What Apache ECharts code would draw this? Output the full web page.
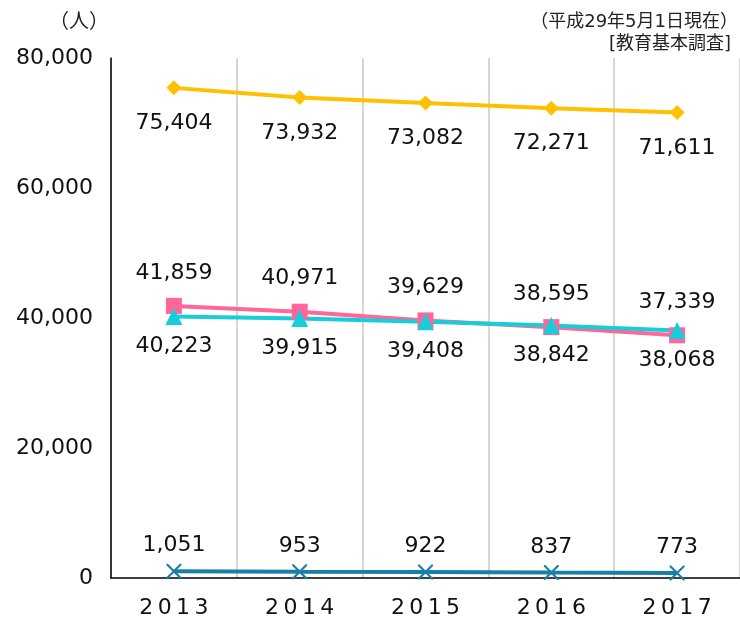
<!DOCTYPE html>
<html>
<head>
<meta charset="utf-8">
<script src="https://cdn.jsdelivr.net/npm/echarts@6/dist/echarts.min.js"></script>
<style>
  html, body { margin: 0; padding: 0; background: #fff; }
  #chart { width: 740px; height: 621px; }
</style>
</head>
<body>
<div id="chart"></div>
<script>
const years = ['2013', '2014', '2015', '2016', '2017']
const seriesA = [75404, 73932, 73082, 72271, 71611]  // 黄
const seriesB = [41859, 40971, 39629, 38595, 37339]  // ピンク
const seriesC = [40223, 39915, 39408, 38842, 38068]  // 水色
const seriesD = [1051, 953, 922, 837, 773]           // 青
const yTicks = [0, 20000, 40000, 60000, 80000]

const numFont = '"DejaVu Sans", "Noto Sans CJK JP", sans-serif'
const cjkFont = '"Noto Sans CJK JP", sans-serif'
const crossPath = 'path://M0,0 L2,0 L10,8 L18,0 L20,0 L20,2 L12,10 L20,18 L20,20 L18,20 L10,12 L2,20 L0,20 L0,18 L8,10 L0,2 Z'

function fmt(v) {
    return v.toLocaleString('en-US')
}

function lineSeries(data, color, symbol, size, pos, dist) {
    return {
        type: 'line',
        data: data,
        symbol: symbol,
        symbolSize: size,
        lineStyle: { color: color, width: 4 },
        itemStyle: { color: color },
        label: {
            show: true,
            position: pos,
            distance: dist,
            formatter: p => fmt(p.value),
            color: '#111',
            fontSize: 22,
            fontFamily: numFont
        },
        z: 3
    }
}

const chart = echarts.init(document.getElementById('chart'))
chart.setOption({
    animation: false,
    textStyle: { fontFamily: numFont },
    title: [
        { text: '（人）', left: 44, top: 5, textStyle: { fontSize: 20, fontWeight: 'normal', color: '#222', fontFamily: cjkFont } },
        { text: '（平成29年5月1日現在）', right: -3, top: 8, textStyle: { fontSize: 18, fontWeight: 'normal', color: '#222', fontFamily: numFont } },
        { text: '[教育基本調査]', right: 4, top: 30, textStyle: { fontSize: 18, fontWeight: 'normal', color: '#222', fontFamily: numFont } }
    ],
    grid: { left: 111, top: 58, width: 636, bottom: 43 },
    xAxis: {
        type: 'category',
        data: years,
        boundaryGap: true,
        axisLine: { lineStyle: { color: '#000', width: 1.5 } },
        axisTick: { show: false },
        axisLabel: {
            color: '#111',
            fontSize: 22,
            fontFamily: numFont,
            margin: 19,
            formatter: v => v.split('').join('\u2009')
        },
        splitLine: { show: true, lineStyle: { color: '#d6d6d6', width: 2 } }
    },
    yAxis: {
        type: 'value',
        min: yTicks[0],
        max: yTicks[yTicks.length - 1],
        interval: 20000,
        axisLine: { show: true, lineStyle: { color: '#000', width: 1.5 } },
        axisTick: { show: false },
        splitLine: { show: false },
        axisLabel: {
            color: '#111',
            fontSize: 22,
            fontFamily: numFont,
            margin: 18,
            formatter: v => fmt(v)
        }
    },
    series: [
        lineSeries(seriesA, '#FFC000', 'diamond', 15, 'bottom', 17),
        lineSeries(seriesB, '#FF6699', 'rect', 16, 'top', 14),
        lineSeries(seriesC, '#17CDD9', 'triangle', 17, 'bottom', 10),
        lineSeries(seriesD, '#1A7FA8', crossPath, 15, 'top', 7)
    ]
})
</script>
</body>
</html>
